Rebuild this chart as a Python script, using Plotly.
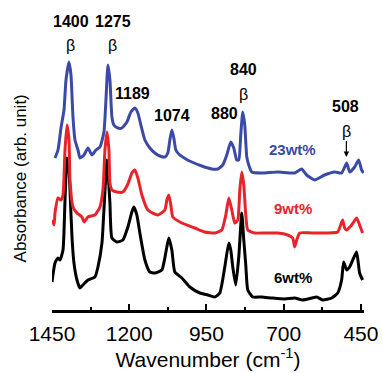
import plotly.graph_objects as go

# ---- data (wavenumber in cm^-1, absorbance in arb. units with offsets) ----
wn_23 = [1440.3, 1430.6, 1420.9, 1411.2, 1404.7, 1395.0, 1388.6, 1382.1, 1375.6, 1365.9, 1359.5,
         1346.5, 1333.6, 1320.7, 1307.8, 1294.8, 1281.9, 1275.4, 1269.0, 1262.5, 1256.0, 1249.6,
         1236.6, 1223.7, 1207.5, 1194.6, 1181.7, 1172.0, 1162.3, 1149.3, 1133.2, 1117.0, 1100.8,
         1084.7, 1075.0, 1068.5, 1062.0, 1055.6, 1049.1, 1036.2, 1016.8, 997.4, 965.0, 932.7,
         913.3, 897.2, 884.2, 871.3, 861.6, 851.9, 845.4, 839.0, 832.5, 826.0, 819.5, 813.1,
         803.4, 771.1, 719.3, 664.4, 641.7, 625.6, 599.7, 567.4, 535.0, 512.4, 496.2, 486.5,
         470.3, 457.4, 447.7, 441.3]
abs_23 = [1.50, 1.58, 1.80, 1.98, 2.28, 2.46, 2.33, 1.91, 1.68, 1.58, 1.50,
          1.53, 1.60, 1.53, 1.58, 1.61, 1.76, 2.08, 2.43, 2.28, 1.91, 1.83,
          1.80, 1.80, 1.86, 1.96, 2.00, 1.95, 1.83, 1.68, 1.60, 1.55, 1.52,
          1.51, 1.55, 1.68, 1.78, 1.70, 1.58, 1.53, 1.49, 1.46, 1.42, 1.39,
          1.39, 1.43, 1.53, 1.66, 1.60, 1.48, 1.48, 1.73, 1.96, 1.83, 1.51, 1.43,
          1.36, 1.35, 1.36, 1.35, 1.39, 1.33, 1.28, 1.33, 1.36, 1.35, 1.45, 1.36,
          1.41, 1.48, 1.38, 1.35]

wn_9 = [1450.0, 1443.5, 1440.3, 1430.6, 1420.9, 1414.4, 1407.9, 1401.5, 1395.0, 1391.8, 1382.1,
        1369.2, 1353.0, 1346.5, 1333.6, 1311.0, 1294.8, 1285.1, 1278.6, 1272.2, 1265.7, 1262.5,
        1256.0, 1239.9, 1220.5, 1204.3, 1191.4, 1181.7, 1172.0, 1159.0, 1139.6, 1107.3, 1084.7,
        1078.2, 1071.8, 1065.3, 1058.8, 1029.7, 987.7, 955.4, 923.0, 900.4, 887.4, 877.7,
        868.0, 858.3, 848.6, 842.1, 835.7, 829.2, 822.7, 816.2, 793.6, 761.2, 719.3, 686.9,
        670.7, 664.4, 657.8, 648.1, 609.3, 557.6, 525.2, 515.6, 509.1, 502.7, 496.2, 480.0,
        463.9, 454.2, 444.5]
abs_9 = [0.88, 0.83, 0.95, 1.10, 1.08, 1.13, 1.58, 1.83, 1.68, 1.28, 1.01,
         0.95, 0.91, 0.86, 0.91, 0.93, 1.01, 1.18, 1.58, 1.76, 1.58, 1.25,
         1.18, 1.16, 1.16, 1.24, 1.35, 1.38, 1.30, 1.13, 0.98, 0.93, 0.98,
         1.08, 1.13, 1.03, 0.91, 0.85, 0.80, 0.76, 0.75, 0.78, 0.93, 1.10,
         0.98, 0.85, 0.88, 1.18, 1.36, 1.23, 0.93, 0.78, 0.75, 0.75, 0.75, 0.73,
         0.70, 0.61, 0.68, 0.75, 0.75, 0.75, 0.76, 0.83, 0.88, 0.80, 0.78, 0.83,
         0.90, 0.83, 0.75]

wn_6 = [1450.0, 1440.3, 1430.6, 1424.1, 1414.4, 1407.9, 1401.5, 1395.0, 1391.8, 1385.3, 1378.9,
        1369.2, 1359.5, 1349.8, 1333.6, 1311.0, 1301.3, 1288.3, 1281.9, 1272.2, 1269.0, 1262.5,
        1256.0, 1239.9, 1220.5, 1204.3, 1191.4, 1185.0, 1175.3, 1165.6, 1149.3, 1133.2, 1117.0,
        1094.4, 1084.7, 1078.2, 1071.8, 1062.0, 1052.3, 1029.7, 1003.8, 971.5, 945.6, 922.9,
        906.8, 890.6, 877.7, 871.3, 864.8, 855.1, 845.4, 835.7, 829.2, 822.7, 816.2, 800.1,
        771.1, 738.7, 696.7, 664.4, 638.5, 609.3, 593.2, 573.8, 544.7, 525.2, 512.4, 505.9,
        496.2, 486.5, 473.6, 463.9, 454.2, 444.5]
abs_6 = [0.26, 0.45, 0.50, 0.48, 0.58, 1.08, 1.50, 1.38, 1.18, 0.71, 0.45,
         0.28, 0.20, 0.23, 0.28, 0.31, 0.41, 0.65, 0.98, 1.48, 1.38, 1.05,
         0.70, 0.66, 0.68, 0.81, 0.96, 1.01, 0.93, 0.75, 0.48, 0.36, 0.35,
         0.38, 0.50, 0.61, 0.70, 0.58, 0.36, 0.30, 0.21, 0.15, 0.13, 0.11,
         0.15, 0.41, 0.65, 0.58, 0.41, 0.23, 0.51, 0.95, 0.68, 0.43, 0.18, 0.11,
         0.11, 0.10, 0.09, 0.10, 0.08, 0.10, 0.11, 0.08, 0.10, 0.15, 0.28, 0.46,
         0.38, 0.41, 0.50, 0.56, 0.35, 0.28]

series_names = ["6wt%", "23wt%", "9wt%"]
series_colors = ["#000000", "#3a4aa6", "#e8232a"]

tick_vals = [1450, 1200, 950, 700, 450]
tick_text = ["1450", "1200", "950", "700", "450"]
minor_vals = [1325, 1075, 825, 575]

peak_labels = ["1400", "1275", "1189", "1074", "880", "840", "508"]
beta_peaks = ["1400", "1275", "840"]

FONT = "Arial, Liberation Sans, sans-serif"

fig = go.Figure()
for wn, ab, name, col in zip([wn_6, wn_23, wn_9], [abs_6, abs_23, abs_9], series_names, series_colors):
    fig.add_trace(go.Scatter(x=wn, y=ab, mode="lines", name=name,
                             line=dict(color=col, width=3, shape="spline", smoothing=0.5),
                             showlegend=False))

# peak number labels (x in cm^-1, y in absorbance units)
label_pos = {"1400": (1389, 2.87), "1275": (1251, 2.87), "1189": (1188, 2.15),
             "1074": (1062, 1.93), "880": (891, 1.95), "840": (829, 2.39), "508": (500, 2.02)}
for lab in peak_labels:
    x, y = label_pos[lab]
    fig.add_annotation(x=x, y=y, text=f"<b>{lab}</b>", showarrow=False,
                       font=dict(family=FONT, size=16, color="black"))
beta_pos = {"1400": (1391, 2.63), "1275": (1253, 2.63), "840": (829, 2.14)}
for lab in beta_peaks:
    x, y = beta_pos[lab]
    fig.add_annotation(x=x, y=y, text="β", showarrow=False,
                       font=dict(family=FONT, size=16, color="black"))
# beta with arrow to the 508 peak
fig.add_annotation(x=497, y=1.51, ax=0, ay=-26, text="β", showarrow=True,
                   arrowhead=2, arrowsize=0.9, arrowwidth=1.2, arrowcolor="black",
                   font=dict(family=FONT, size=16, color="black"))

# series labels
name_pos = {"23wt%": (671, 1.59), "9wt%": (671, 1.00), "6wt%": (671, 0.31)}
for name, col in zip(series_names, series_colors):
    x, y = name_pos[name]
    fig.add_annotation(x=x, y=y, text=f"<b>{name}</b>", showarrow=False,
                       font=dict(family=FONT, size=15, color=col))

# y-axis title as rotated text
fig.add_annotation(xref="paper", yref="paper", x=-0.102, y=0.425, text="Absorbance (arb. unit)",
                   textangle=-90, showarrow=False, xanchor="center", yanchor="middle",
                   font=dict(family=FONT, size=17, color="black"))

fig.update_layout(
    width=383, height=373,
    margin=dict(l=52, r=19, t=0, b=63),
    paper_bgcolor="white", plot_bgcolor="white",
    font=dict(family=FONT, color="black"),
    xaxis=dict(range=[1450, 440], tickvals=tick_vals, ticktext=tick_text,
               ticks="inside", ticklen=6, tickwidth=2, tickcolor="black",
               minor=dict(tickvals=minor_vals, ticks="inside", ticklen=3,
                          tickwidth=2, tickcolor="black"),
               showline=True, linewidth=2.5, linecolor="black", showgrid=False, zeroline=False,
               tickfont=dict(family=FONT, size=21, color="black"),
               ticklabelstandoff=3,
               title=dict(text="Wavenumber (cm<sup>-1</sup>)", standoff=4,
                          font=dict(family=FONT, size=21, color="black"))),
    yaxis=dict(range=[-0.02, 3.08], showline=False, showgrid=False, zeroline=False,
               showticklabels=False, ticks=""),
)

fig.write_html("out.html")
